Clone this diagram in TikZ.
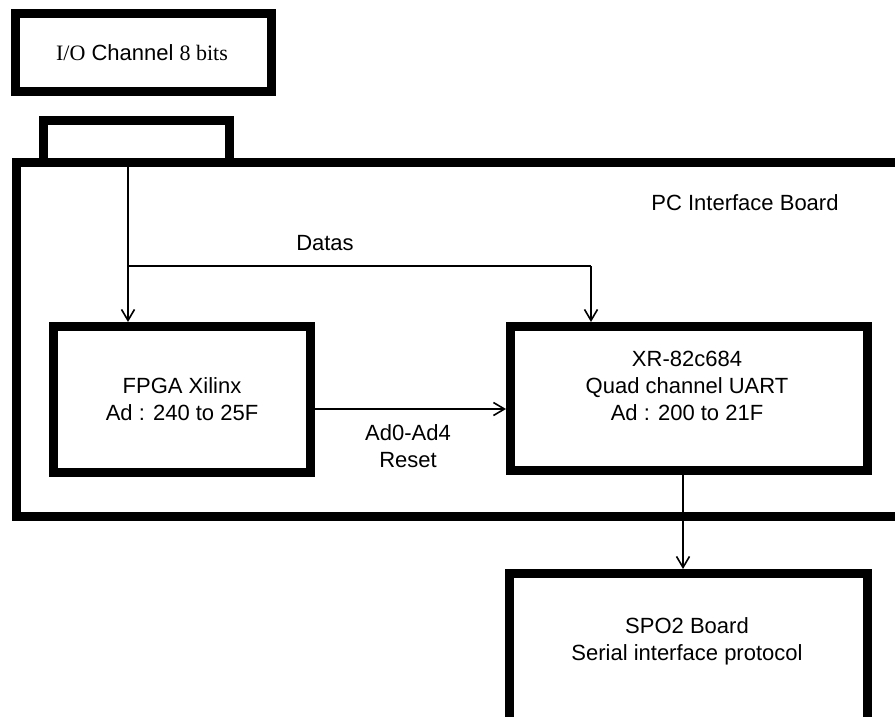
\documentclass[tikz,border=0pt]{standalone}
\usepackage{fontspec}
\setmainfont{Liberation Sans}
\newfontfamily\timesf{Liberation Serif}
\usetikzlibrary{arrows.meta}
\begin{document}
\begin{tikzpicture}[x=1pt,y=-1pt,
  heavy/.style={draw=black,line width=9pt},
  boxnode/.style={heavy,rectangle,inner sep=0pt},
  txt/.style={align=center,inner sep=0pt,font=\fontsize{22}{27}\selectfont},
  conn/.style={line width=1.6pt,-{Straight Barb[length=11pt,width=13pt,line width=1.6pt]}},
  plainline/.style={line width=1.6pt}]
\useasboundingbox (0,0) rectangle (895,716);
\clip (0,0) rectangle (895,716);
% I/O channel
\node[boxnode,minimum width=256pt,minimum height=78pt] (io) at (143.5,52.5) {};
\node[txt] (iotext) at (142,53) {{\timesf I/O} Channel {\timesf 8 bits}};
% PC interface board outline
\coordinate (bTR) at (905,162.5);
\coordinate (bBR) at (905,516.5);
\draw[heavy] (bTR) -| (16,516.5) -- (bBR);
% connector on top of board
\draw[heavy] (43.5,162.5) |- (229.5,120) -- (229.5,162.5);
\node[txt] (pcib) at (745,203) {PC Interface Board};
% FPGA
\node[boxnode,minimum width=257pt,minimum height=146pt] (fpga) at (182,399.5) {};
\node[txt] (fpgatext) at (182,399.5) {FPGA Xilinx\\Ad : 240 to 25F};
% XR UART
\node[boxnode,minimum width=357pt,minimum height=143.5pt] (xr) at (689,398.25) {};
\node[txt] (xrtext) at (687,386) {XR-82c684\\Quad channel UART\\Ad : 200 to 21F};
% SPO2 board
\node[boxnode,minimum width=358.5pt,minimum height=147.5pt] (spo) at (688.25,647.25) {};
\node[txt] (spotext) at (687,641.5) {SPO2 Board\\Serial interface protocol};
% data lines
\coordinate (tap) at (128,167);
\coordinate (split) at (128,266);
\coordinate (corner) at (591,266);
\draw[conn] (tap) -- (tap |- fpga.north);
\draw[plainline] (split) -- (corner);
\draw[conn] (corner) -- (corner |- xr.north);
\node[txt] (datas) at (325,243) {Datas};
% address lines
\draw[conn] (fpga.east |- 0,409) -- (xr.west |- 0,409);
\node[txt] (adr) at (408,446.5) {Ad0-Ad4\\Reset};
% to SPO2
\coordinate (down) at (683,474);
\draw[conn] (down) -- (down |- spo.north);
\end{tikzpicture}
\end{document}
